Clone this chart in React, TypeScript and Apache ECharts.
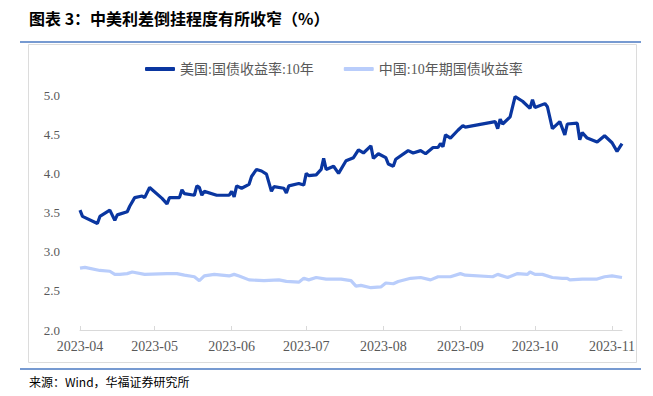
import React, { useEffect, useRef } from "react";
import * as echarts from "echarts";

const titleText = "图表 3：中美利差倒挂程度有所收窄（%）";
const sourceText = "来源：Wind，华福证券研究所";
const seriesNames = ["美国:国债收益率:10年", "中国:10年期国债收益率"];

const usDates = [
  "2023-04-01", "2023-04-02", "2023-04-08", "2023-04-09", "2023-04-13", "2023-04-15", "2023-04-16",
  "2023-04-20", "2023-04-21", "2023-04-23", "2023-04-26", "2023-04-27", "2023-04-29", "2023-05-04",
  "2023-05-06", "2023-05-07", "2023-05-11", "2023-05-12", "2023-05-13", "2023-05-17", "2023-05-18",
  "2023-05-19", "2023-05-20", "2023-05-21", "2023-05-26", "2023-05-31", "2023-06-01", "2023-06-02",
  "2023-06-03", "2023-06-05", "2023-06-08", "2023-06-09", "2023-06-11", "2023-06-13", "2023-06-15",
  "2023-06-17", "2023-06-18", "2023-06-22", "2023-06-23", "2023-06-24", "2023-06-28", "2023-06-30",
  "2023-07-01", "2023-07-02", "2023-07-05", "2023-07-07", "2023-07-08", "2023-07-09", "2023-07-12",
  "2023-07-14", "2023-07-17", "2023-07-20", "2023-07-22", "2023-07-24", "2023-07-27", "2023-07-28",
  "2023-07-30", "2023-08-02", "2023-08-03", "2023-08-05", "2023-08-06", "2023-08-11", "2023-08-13",
  "2023-08-16", "2023-08-18", "2023-08-21", "2023-08-23", "2023-08-24", "2023-08-25", "2023-08-26",
  "2023-08-28", "2023-08-31", "2023-09-02", "2023-09-03", "2023-09-15", "2023-09-16", "2023-09-17",
  "2023-09-18", "2023-09-21", "2023-09-23", "2023-09-26", "2023-09-29", "2023-09-30", "2023-10-01",
  "2023-10-05", "2023-10-06", "2023-10-08", "2023-10-11", "2023-10-13", "2023-10-14", "2023-10-18",
  "2023-10-19", "2023-10-20", "2023-10-22", "2023-10-26", "2023-10-29", "2023-11-01", "2023-11-03",
  "2023-11-05",
];
const usValues = [
  3.53, 3.45, 3.36, 3.45, 3.53, 3.40, 3.47,
  3.51, 3.58, 3.69, 3.71, 3.69, 3.82, 3.68,
  3.61, 3.69, 3.69, 3.79, 3.74, 3.72, 3.84,
  3.82, 3.72, 3.77, 3.72, 3.72, 3.77, 3.70,
  3.84, 3.81, 3.86, 3.96, 4.05, 4.03, 3.99,
  3.77, 3.83, 3.81, 3.75, 3.84, 3.87, 3.85,
  4.00, 3.97, 3.98, 4.05, 4.19, 4.05, 4.09,
  4.00, 4.16, 4.20, 4.30, 4.26, 4.35, 4.19,
  4.25, 4.20, 4.12, 4.09, 4.18, 4.29, 4.26,
  4.29, 4.25, 4.33, 4.33, 4.38, 4.34, 4.49,
  4.45, 4.55, 4.61, 4.59, 4.66, 4.57, 4.69,
  4.63, 4.72, 4.98, 4.92, 4.83, 4.94, 4.84,
  4.89, 4.85, 4.57, 4.66, 4.49, 4.63, 4.64,
  4.43, 4.52, 4.45, 4.40, 4.48, 4.39, 4.28,
  4.38,
];

const cnDates = [
  "2023-04-01", "2023-04-03", "2023-04-09", "2023-04-13", "2023-04-15", "2023-04-17", "2023-04-20",
  "2023-04-22", "2023-04-27", "2023-05-06", "2023-05-10", "2023-05-13", "2023-05-17", "2023-05-19",
  "2023-05-21", "2023-05-25", "2023-05-31", "2023-06-02", "2023-06-04", "2023-06-08", "2023-06-14",
  "2023-06-20", "2023-06-23", "2023-06-28", "2023-06-30", "2023-07-02", "2023-07-05", "2023-07-09",
  "2023-07-15", "2023-07-19", "2023-07-21", "2023-07-23", "2023-07-27", "2023-07-31", "2023-08-02",
  "2023-08-05", "2023-08-07", "2023-08-12", "2023-08-16", "2023-08-20", "2023-08-23", "2023-08-28",
  "2023-09-01", "2023-09-03", "2023-09-14", "2023-09-16", "2023-09-20", "2023-09-24", "2023-09-28",
  "2023-09-29", "2023-10-01", "2023-10-04", "2023-10-08", "2023-10-12", "2023-10-14", "2023-10-15",
  "2023-10-20", "2023-10-26", "2023-10-29", "2023-11-01", "2023-11-05",
];
const cnValues = [
  2.79, 2.80, 2.76, 2.75, 2.71, 2.71, 2.72,
  2.74, 2.71, 2.72, 2.72, 2.70, 2.68, 2.63,
  2.69, 2.71, 2.69, 2.71, 2.69, 2.64, 2.63,
  2.64, 2.62, 2.61, 2.66, 2.64, 2.67, 2.65,
  2.65, 2.63, 2.56, 2.57, 2.54, 2.55, 2.60,
  2.59, 2.62, 2.66, 2.67, 2.64, 2.68, 2.68,
  2.72, 2.70, 2.68, 2.71, 2.67, 2.72, 2.71,
  2.74, 2.71, 2.71, 2.67, 2.66, 2.66, 2.64,
  2.65, 2.65, 2.68, 2.69, 2.67,
];

const monthTicks = [
  "2023-04-01", "2023-05-01", "2023-06-01", "2023-07-01",
  "2023-08-01", "2023-09-01", "2023-10-01", "2023-11-01",
];
const xRange = ["2023-04-01", "2023-11-05"];
const yMin = 2.0;
const yMax = 5.0;
const yStep = 0.5;

const ts = (d: string) => {
  const [y, m, dd] = d.split("-").map(Number);
  return Date.UTC(y, m - 1, dd);
};
const pad = (n: number) => (n < 10 ? "0" + n : "" + n);
const fmtMonth = (v: number) => {
  const d = new Date(v);
  return d.getUTCFullYear() + "-" + pad(d.getUTCMonth() + 1);
};

const serifFont = "'Liberation Serif', 'Noto Sans CJK SC', serif";
const US_COLOR = "#0a36a0";
const CN_COLOR = "#b9cdfb";

export default function App() {
  const ref = useRef<HTMLDivElement>(null);
  useEffect(() => {
    if (!ref.current) return;
    const chart = echarts.init(ref.current, undefined, { renderer: "svg" });
    const tickVals = monthTicks.map(ts);
    chart.setOption({
      animation: false,
      backgroundColor: "#ffffff",
      graphic: [
        {
          type: "text",
          left: 29,
          top: 10,
          style: {
            text: titleText,
            fontSize: 16,
            fontWeight: "bold",
            fill: "#000000",
            fontFamily: "'Noto Sans CJK SC', sans-serif",
          },
        },
        {
          type: "line",
          shape: { x1: 20, y1: 42, x2: 641, y2: 42 },
          style: { stroke: "#4a78c2", lineWidth: 1.5 },
        },
        {
          type: "rect",
          shape: { x: 28.5, y: 44.5, width: 608, height: 318 },
          style: { fill: "none", stroke: "#dcdcdc", lineWidth: 1 },
        },
        {
          type: "line",
          shape: { x1: 20, y1: 369, x2: 641, y2: 369 },
          style: { stroke: "#4a78c2", lineWidth: 1.5 },
        },
        {
          type: "text",
          left: 29,
          top: 375,
          style: {
            text: sourceText,
            fontSize: 12,
            fill: "#000000",
            fontFamily: "'Noto Sans CJK SC', sans-serif",
          },
        },
      ],
      legend: {
        left: 140,
        top: 57,
        itemWidth: 30,
        itemHeight: 4,
        itemGap: 30,
        icon: "roundRect",
        textStyle: { color: "#595959", fontSize: 14, fontFamily: serifFont },
        data: seriesNames,
      },
      grid: { left: 80, right: 31, top: 95, bottom: 66, containLabel: false },
      xAxis: {
        type: "value",
        min: ts(xRange[0]),
        max: ts(xRange[1]),
        axisLine: { show: true, lineStyle: { color: "#d9d9d9", width: 1 } },
        axisTick: {
          show: true,
          inside: true,
          length: 4,
          customValues: tickVals,
          lineStyle: { color: "#d9d9d9" },
        },
        splitLine: { show: false },
        axisLabel: {
          customValues: tickVals,
          formatter: (v: number) => fmtMonth(v),
          color: "#595959",
          fontSize: 14,
          fontFamily: serifFont,
          margin: 9,
        },
      },
      yAxis: {
        type: "value",
        min: yMin,
        max: yMax,
        interval: yStep,
        axisLine: { show: false },
        axisTick: { show: false },
        splitLine: { show: false },
        axisLabel: {
          formatter: (v: number) => v.toFixed(1),
          color: "#595959",
          fontSize: 13,
          fontFamily: serifFont,
          margin: 20,
        },
      },
      series: [
        {
          name: seriesNames[0],
          type: "line",
          showSymbol: false,
          symbol: "none",
          lineStyle: { color: US_COLOR, width: 3.2 },
          itemStyle: { color: US_COLOR },
          data: usDates.map((d, i) => [ts(d), usValues[i]]),
          z: 3,
        },
        {
          name: seriesNames[1],
          type: "line",
          showSymbol: false,
          symbol: "none",
          lineStyle: { color: CN_COLOR, width: 3.2 },
          itemStyle: { color: CN_COLOR },
          data: cnDates.map((d, i) => [ts(d), cnValues[i]]),
          z: 2,
        },
      ],
    });
    return () => chart.dispose();
  }, []);
  return (
    <div
      ref={ref}
      style={{ position: "fixed", left: 0, top: 0, width: 653, height: 396 }}
    />
  );
}
